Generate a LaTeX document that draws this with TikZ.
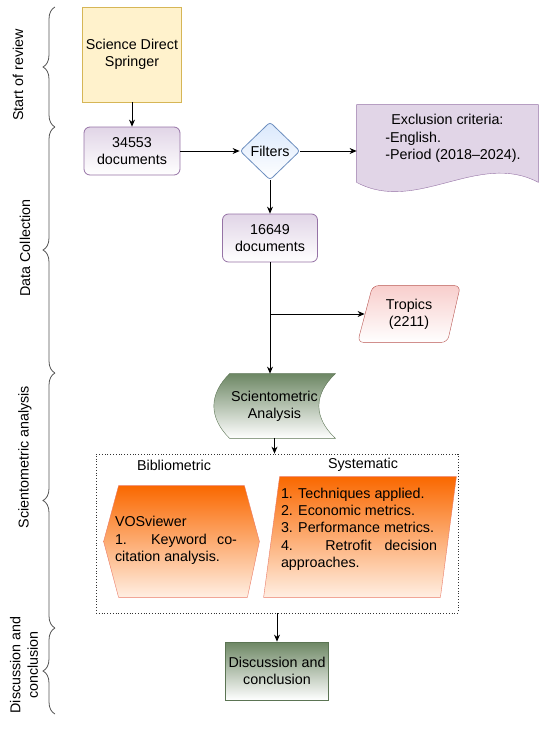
\documentclass[tikz,border=0pt]{standalone}
\usepackage{fontspec}
\setmainfont{Liberation Sans}
\usepackage{tikz}
\usetikzlibrary{arrows.meta, positioning, shapes, calc, backgrounds, decorations.pathreplacing}

\definecolor{yelfill}{HTML}{FFF2CC}
\definecolor{yeldraw}{HTML}{D6B656}
\definecolor{purfill}{HTML}{E1D5E7}
\definecolor{purdraw}{HTML}{9673A6}
\definecolor{bluefill}{HTML}{DAE8FC}
\definecolor{bluedraw}{HTML}{6C8EBF}
\definecolor{redfill}{HTML}{F8CECC}
\definecolor{reddraw}{HTML}{B85450}
\definecolor{grnfill}{HTML}{6D8764}
\definecolor{grndraw}{HTML}{5B7453}
\definecolor{orgfill}{HTML}{FA6800}
\definecolor{orglow}{HTML}{FFEFE3}
\definecolor{orgdraw}{HTML}{EA7A66}
\definecolor{bracegray}{HTML}{555555}

\newcommand{\diagfont}{\fontsize{14.3}{17.3}\selectfont}

\begin{document}
\begin{tikzpicture}[x=1pt, y=-1pt, font=\diagfont, line width=0.8pt, >={Stealth[length=7pt,width=6pt]},
    purbox/.style={draw=purdraw, top color=purfill, bottom color=white, rounded corners=6pt, minimum width=96pt, minimum height=48pt, align=center},
    grnshade/.style={draw=grndraw, top color=grnfill, bottom color=white},
    orgshade/.style={draw=orgdraw, top color=orgfill, bottom color=orglow},
    shapebox/.style={inner sep=0pt}]
  \useasboundingbox (0,0) rectangle (550,731);

  % phases on the left
  \foreach \a/\b in {7/127,127/373,373/628,628/714}
    \draw[bracegray, decorate, decoration={brace, amplitude=12pt}] (55,\b) -- (55,\a);
  \node[rotate=90] (lstart) at (18,75) {Start of review};
  \node[rotate=90] (ldata) at (25,248) {Data Collection};
  \node[rotate=90] (lsci) at (25,457) {Scientometric analysis};
  \node[rotate=90, align=center] (ldisc) at (24,665) {Discussion and\\conclusion};

  % data collection
  \node[draw=yeldraw, fill=yelfill, minimum width=96pt, minimum height=95pt, align=center] (src) at (132,54.5) {Science Direct\\Springer};
  \node[purbox] (doc1) at (132,151) {34553\\documents};
  \node[diamond, draw=bluedraw, top color=bluefill, bottom color=white, rounded corners=3pt, inner sep=0pt, minimum width=60pt, minimum height=58pt] (filt) at (270,151) {Filters};
  \node[shapebox, minimum width=181pt, minimum height=77pt] (excl) at (447.5,143.5) {};
  \node[align=left] (excltxt) at (453,138.5) {\hspace*{6pt}Exclusion criteria:\\-English.\\-Period (2018–2024).};
  \node[purbox, minimum width=95pt] (doc2) at (270,238) {16649\\documents};
  \node[shapebox, minimum width=88pt, minimum height=56pt, align=center] (trop) at (409,314) {Tropics\\(2211)};

  % analysis
  \node[shapebox, minimum width=121pt, minimum height=64pt, align=center] (sci) at (274.5,406) {Scientometric\\Analysis};
  \node[draw=black!80, dotted, minimum width=362pt, minimum height=159pt] (grp) at (277,533.5) {};
  \node (bibl) at (174,465) {Bibliometric};
  \node (syst) at (363,465) {Systematic};
  \node[shapebox, minimum width=155pt, minimum height=111pt] (vos) at (181.5,541.5) {};
  \node[text width=122pt, align=justify] (vostxt) at (176,540.5) {VOSviewer\\1. Keyword co-\linebreak citation analysis.};
  \node[shapebox, minimum width=192pt, minimum height=120pt] (sys) at (360,537) {};
  \node[text width=156pt, align=justify] (systxt) at (359,529) {1. Techniques applied.\\2. Economic metrics.\\3. Performance metrics.\\4. Retrofit decision\linebreak approaches.};
  \node[draw=grndraw, top color=grnfill, bottom color=white, minimum width=103pt, minimum height=58pt, align=center] (disc) at (277,671) {Discussion and\\conclusion};

  \begin{scope}[on background layer]
    \path[draw=purdraw, fill=purfill] (excl.north west) -- (excl.north east) -- (excl.south east)
      .. controls ($(excl.south east)+(-60,-32)$) and ($(excl.south west)+(60,32)$) .. (excl.south west) -- cycle;
    \path[draw=reddraw, top color=redfill, bottom color=white, rounded corners=6pt]
      ($(trop.north west)+(8,0)$) -- ($(trop.north east)+(7,0)$) -- ($(trop.south east)+(-6,0)$) -- ($(trop.south west)+(-7,0)$) -- cycle;
    \path[grnshade] ($(sci.north west)+(16,0)$) -- (sci.north east)
      .. controls ($(sci.north east)+(-22,21)$) and ($(sci.south east)+(-22,-21)$) .. (sci.south east)
      -- ($(sci.south west)+(16,0)$)
      .. controls ($(sci.south west)+(-5,-21)$) and ($(sci.north west)+(-5,21)$) .. ($(sci.north west)+(16,0)$) -- cycle;
    \path[orgshade] (vos.west) -- ($(vos.north west)+(15,0)$) -- ($(vos.north east)+(-15,0)$) -- (vos.east)
      -- ($(vos.south east)+(-12,0)$) -- ($(vos.south west)+(15,0)$) -- cycle;
    \path[orgshade] ($(sys.north west)+(16,0)$) -- (sys.north east) -- ($(sys.south east)+(-16,0)$) -- (sys.south west) -- cycle;
  \end{scope}

  % connectors
  \draw[->] (src) -- (doc1);
  \draw[->] (doc1) -- (filt);
  \draw[->] (filt) -- (filt -| excl.west);
  \draw[->] (filt) -- (doc2);
  \coordinate (br) at (doc2.south |- trop.west);
  \draw[->] (doc2.south) -- (doc2.south |- sci.north);
  \draw[->] (br) -- (trop.west);
  \draw[->] (sci.south) -- (sci.south |- grp.north);
  \draw[->] (grp) -- (disc);
\end{tikzpicture}
\end{document}
